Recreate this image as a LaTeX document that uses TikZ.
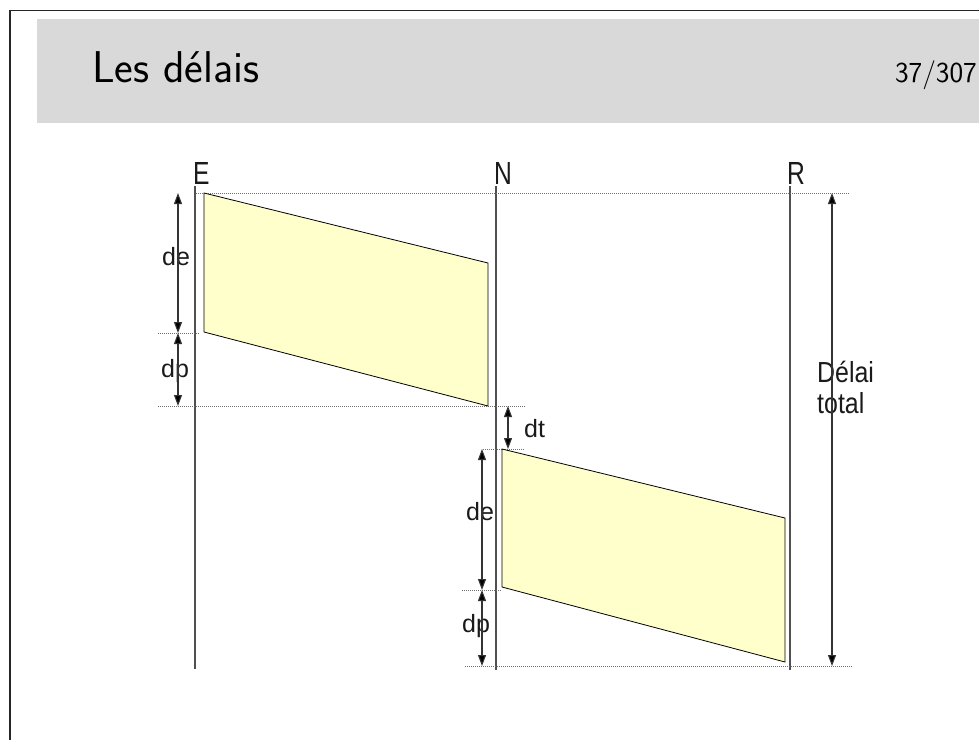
\documentclass[tikz,border=0pt]{standalone}
\usepackage{fontspec}
\newfontfamily\arialf{Liberation Sans}
\newfontfamily\arialtall[FakeStretch=0.77]{Liberation Sans}
\newfontfamily\arialmid[FakeStretch=0.86]{Liberation Sans}
\usetikzlibrary{arrows.meta}
\definecolor{bandgray}{HTML}{D9D9D9}
\definecolor{boxyellow}{HTML}{FFFFCC}
\definecolor{linegray}{HTML}{505050}
\definecolor{dotgray}{HTML}{707070}
\definecolor{txtgray}{HTML}{1A1A1A}
\tikzset{
  timeline/.style={draw=linegray, line width=1.3pt},
  guide/.style={draw=dotgray, line width=0.9pt, dash pattern=on 1pt off 1pt},
  slab/.style={fill=boxyellow, draw=black, line width=0.8pt, line join=miter},
  dimarrow/.style={draw=black!80, line width=1.1pt, {Triangle[length=11pt,width=8pt,fill=black]}-{Triangle[length=11pt,width=8pt,fill=black]}},
  lbl/.style={font=\arialf\fontsize{25}{25}\selectfont, text=txtgray, inner sep=0pt, anchor=base west},
  endlbl/.style={font=\arialtall\fontsize{32}{32}\selectfont, text=txtgray, inner sep=0pt, anchor=base west},
  totlbl/.style={font=\arialmid\fontsize{29}{29}\selectfont, text=txtgray, inner sep=0pt, anchor=base west},
}
\begin{document}
\begin{tikzpicture}[x=1pt,y=-1pt]
\useasboundingbox (0,0) rectangle (979,740);
% slide frame and header
\fill[bandgray] (37,19) rectangle (979,123);
\coordinate (frTR) at (979,10.7);
\coordinate (frTL) at (10,10.7);
\coordinate (frBL) at (10,740);
\draw[line width=1.5pt, black!85] (frTR) -- (frTL) -- (frBL);
\node[font=\sffamily\fontsize{44.5}{44.5}\selectfont, anchor=base west, inner sep=0pt] (title) at (92,82) {Les délais};
\node[font=\sffamily\fontsize{29}{29}\selectfont, anchor=base east, inner sep=0pt] (page) at (977,82) {37/307};
% timelines
\node[endlbl] (E) at (193,184) {E};
\node[endlbl] (N) at (494,184) {N};
\node[endlbl] (R) at (787,184) {R};
\coordinate (Etop) at (195,186); \coordinate (Ebot) at (195,669);
\coordinate (Ntop) at (496,186); \coordinate (Nbot) at (496,670);
\coordinate (Rtop) at (790,186); \coordinate (Rbot) at (790,670);
\draw[timeline] (Etop) -- (Ebot);
\draw[timeline] (Ntop) -- (Nbot);
\draw[timeline] (Rtop) -- (Rbot);
% guide lines
\coordinate (g1a) at (196,193); \coordinate (g1b) at (849,193);
\coordinate (g2a) at (158,333); \coordinate (g2b) at (200,333);
\coordinate (g3a) at (158,406); \coordinate (g3b) at (525,406);
\coordinate (g4a) at (483,449); \coordinate (g4b) at (525,449);
\coordinate (g5a) at (462,590); \coordinate (g5b) at (502,590);
\coordinate (g6a) at (465,666); \coordinate (g6b) at (853,666);
\draw[guide] (g1a) -- (g1b);
\draw[guide] (g2a) -- (g2b);
\draw[guide] (g3a) -- (g3b);
\draw[guide] (g4a) -- (g4b);
\draw[guide] (g5a) -- (g5b);
\draw[guide] (g6a) -- (g6b);
% packets
\draw[slab] (204,193) -- (488,263) -- (488,406) -- (204,332) -- cycle;
\draw[slab] (502,449) -- (785,518) -- (785,662) -- (502,587) -- cycle;
% labels
\node[lbl] (de1) at (162,265) {de};
\node[lbl] (dp1) at (161,377) {dp};
\node[lbl] (dt) at (524,437) {dt};
\node[lbl] (de2) at (466,520) {de};
\node[lbl] (dp2) at (462,632) {dp};
\node[totlbl] (delai) at (817,382) {Délai};
\node[totlbl] (total) at (817,413) {total};
% dimension arrows
\coordinate (a0) at (178,193); \coordinate (a1) at (178,333); \coordinate (a2) at (178,406);
\coordinate (b0) at (508,406); \coordinate (b1) at (508,449);
\coordinate (c0) at (482,449); \coordinate (c1) at (482,590); \coordinate (c2) at (482,666);
\coordinate (t0) at (832,193); \coordinate (t1) at (832,666);
\draw[dimarrow] (a0) -- (a1);
\draw[dimarrow] (a1) -- (a2);
\draw[dimarrow] (b0) -- (b1);
\draw[dimarrow] (c0) -- (c1);
\draw[dimarrow] (c1) -- (c2);
\draw[dimarrow] (t0) -- (t1);
\end{tikzpicture}
\end{document}
